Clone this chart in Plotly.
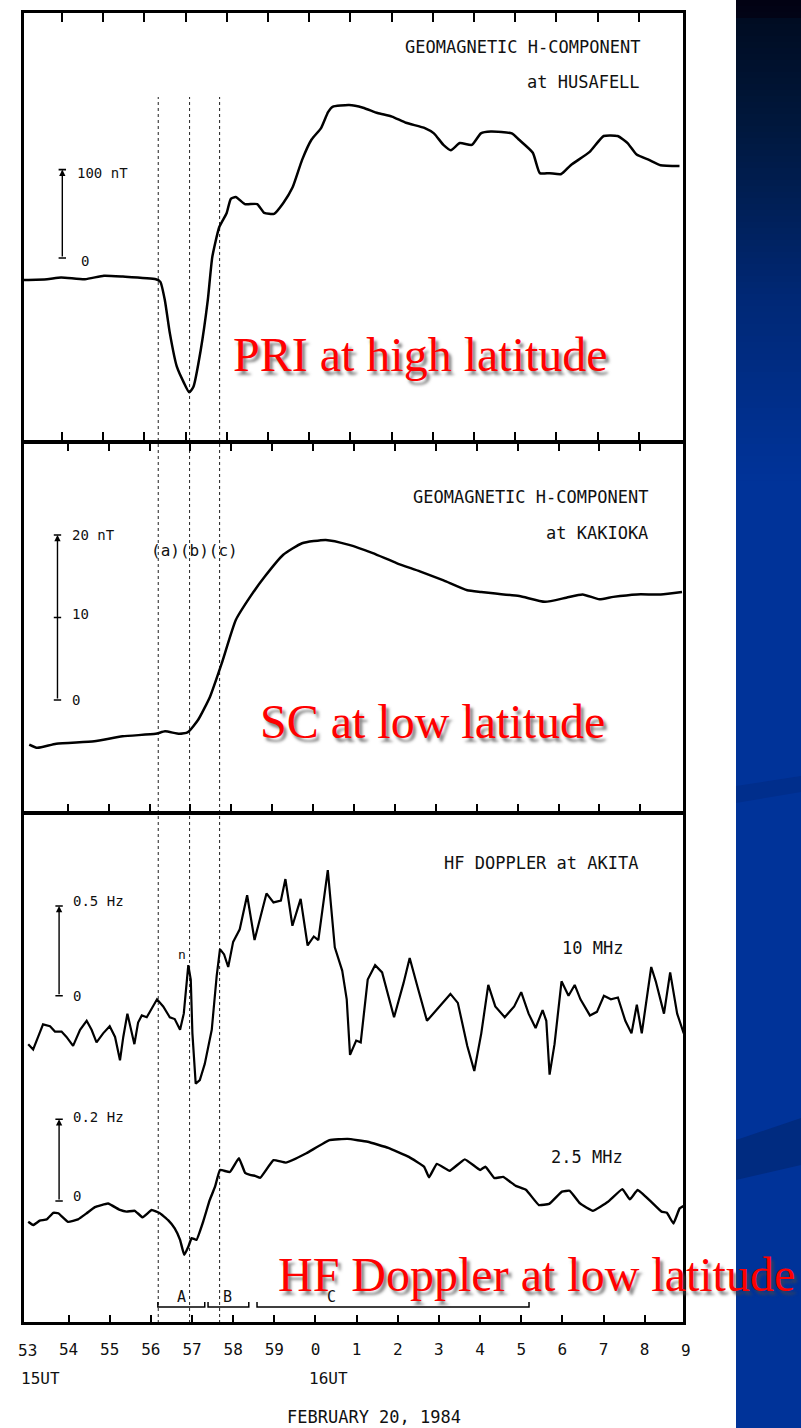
import plotly.graph_objects as go

W, H = 801, 1428


def X(px):
    return px / W


def Y(py):
    return 1 - py / H


# ---------------- data (minutes after 15:00 UT) ----------------
husafell_t = [53.07, 53.64, 53.98, 54.56, 55.02, 55.48, 56.28, 56.39, 56.50, 56.62,
              56.79, 56.96, 57.09, 57.19, 57.37, 57.54, 57.65, 57.82, 58.00, 58.10,
              58.22, 58.44, 58.74, 58.91, 59.15, 59.37, 59.60, 59.83, 60.06, 60.29,
              60.46, 60.57, 60.97, 61.31, 61.66, 62.01, 62.35, 62.81, 63.03, 63.26,
              63.44, 63.66, 63.95, 64.17, 64.41, 64.92, 65.09, 65.43, 65.60, 65.84,
              66.12, 66.35, 66.81, 67.15, 67.49, 67.73, 67.95, 68.25, 68.53, 68.99]
husafell_nT = [-25, -24, -22, -24, -20, -21, -24, -27, -48, -85,
               -123, -141, -152, -146, -104, -48, 1, 35, 51, 67,
               69, 61, 61, 51, 50, 62, 80, 111, 134, 147,
               165, 171, 173, 170, 164, 160, 153, 147, 141, 128,
               122, 130, 128, 141, 143, 141, 134, 119, 96, 96,
               95, 105, 120, 138, 138, 130, 117, 111, 105, 104]

kakioka_t = [53.06, 53.26, 53.72, 54.65, 55.34, 56.15, 56.38, 56.73, 56.94, 57.19,
             57.48, 57.77, 58.11, 58.46, 58.81, 59.27, 59.73, 60.31, 60.88, 61.46,
             62.04, 62.61, 63.19, 63.77, 64.11, 64.46, 65.04, 65.67, 66.19, 66.59,
             67.00, 67.34, 67.92, 68.50, 69.02]
kakioka_nT = [-5.4, -5.8, -5.3, -5.0, -4.4, -4.1, -3.8, -4.1, -3.9, -2.4,
              0.4, 4.5, 9.7, 12.5, 14.9, 17.6, 19.0, 19.4, 18.8, 17.8,
              16.6, 15.6, 14.5, 13.3, 13.1, 12.9, 12.6, 11.9, 12.4, 12.8,
              12.2, 12.5, 12.8, 12.8, 13.1]

akita10_t = [53.02, 53.14, 53.26, 53.38, 53.55, 53.67, 53.83, 53.95, 54.11, 54.28,
             54.44, 54.56, 54.68, 54.84, 55.00, 55.13, 55.25, 55.33, 55.43, 55.51,
             55.60, 55.69, 55.78, 55.90, 56.02, 56.15, 56.30, 56.46, 56.58, 56.71,
             56.80, 56.91, 56.97, 57.01, 57.09, 57.19, 57.31, 57.48, 57.60, 57.68,
             57.78, 57.88, 58.00, 58.16, 58.34, 58.52, 58.81, 58.98, 59.16, 59.27,
             59.44, 59.64, 59.81, 59.96, 60.07, 60.30, 60.47, 60.65, 60.76, 60.84,
             60.99, 61.10, 61.27, 61.45, 61.62, 61.91, 62.14, 62.29, 62.48, 62.71,
             62.94, 63.28, 63.46, 63.69, 63.86, 64.03, 64.20, 64.37, 64.60, 64.83,
             65.00, 65.18, 65.35, 65.52, 65.61, 65.69, 65.81, 65.98, 66.15, 66.30,
             66.44, 66.67, 66.84, 67.01, 67.18, 67.35, 67.53, 67.68, 67.81, 67.93,
             68.16, 68.27, 68.47, 68.62, 68.79, 68.95]
akita10_hz = [-0.27, -0.30, -0.23, -0.16, -0.17, -0.20, -0.20, -0.23, -0.28, -0.19,
              -0.14, -0.19, -0.26, -0.21, -0.17, -0.23, -0.36, -0.23, -0.10, -0.18,
              -0.27, -0.15, -0.11, -0.12, -0.07, -0.02, -0.06, -0.12, -0.13, -0.19,
              -0.10, 0.17, 0.09, -0.21, -0.49, -0.47, -0.38, -0.19, 0.11, 0.26,
              0.23, 0.16, 0.30, 0.37, 0.56, 0.31, 0.57, 0.52, 0.53, 0.65,
              0.39, 0.54, 0.28, 0.33, 0.31, 0.70, 0.27, 0.14, -0.02, -0.33,
              -0.25, -0.26, 0.09, 0.17, 0.13, -0.12, 0.07, 0.21, 0.05, -0.14,
              -0.08, 0.01, -0.04, -0.28, -0.42, -0.21, 0.06, -0.06, -0.12, -0.06,
              0.02, -0.10, -0.18, -0.08, -0.14, -0.44, -0.27, 0.08, 0.00, 0.06,
              -0.02, -0.11, -0.09, 0.00, -0.02, -0.01, -0.14, -0.21, -0.05, -0.21,
              0.16, 0.08, -0.10, 0.13, -0.10, -0.21]

akita25_t = [53.02, 53.14, 53.30, 53.47, 53.63, 53.75, 53.99, 54.23, 54.44, 54.64,
             54.96, 55.25, 55.41, 55.61, 55.80, 56.02, 56.22, 56.42, 56.58, 56.71,
             56.81, 56.91, 56.99, 57.11, 57.27, 57.43, 57.56, 57.68, 57.92, 58.14,
             58.29, 58.41, 58.55, 58.66, 58.98, 59.28, 59.78, 60.34, 60.78, 61.27,
             61.77, 62.27, 62.64, 62.76, 62.95, 63.26, 63.63, 64.00, 64.13, 64.35,
             64.56, 64.87, 65.12, 65.43, 65.68, 65.99, 66.18, 66.43, 66.74, 67.11,
             67.46, 67.64, 67.83, 68.16, 68.41, 68.54, 68.70, 68.85, 68.97]
akita25_hz = [-0.051, -0.059, -0.048, -0.045, -0.029, -0.030, -0.051, -0.045, -0.030, -0.015,
              -0.006, -0.022, -0.026, -0.024, -0.040, -0.022, -0.030, -0.047, -0.067, -0.095,
              -0.132, -0.112, -0.091, -0.095, -0.051, 0.002, 0.035, 0.076, 0.071, 0.105,
              0.069, 0.064, 0.061, 0.057, 0.100, 0.094, 0.117, 0.149, 0.152, 0.145,
              0.130, 0.108, 0.084, 0.058, 0.091, 0.074, 0.102, 0.076, 0.084, 0.056,
              0.059, 0.037, 0.027, -0.010, -0.007, 0.023, 0.025, -0.006, -0.024, -0.002,
              0.029, 0.004, 0.027, -0.002, -0.026, -0.029, -0.055, -0.018, -0.011]

tick_minutes = list(range(54, 69))
tick_text = [str(m % 60) for m in tick_minutes]
end_minutes = [53, 69]
event_times = [56.18, 56.94, 57.67]
phase_names = ["A", "B", "C"]
phase_start = [56.17, 57.39, 58.58]
phase_end = [57.31, 58.38, 65.19]
phase_label_t = [56.75, 57.87, 60.40]

# ---------------- geometry (pixels) ----------------
LW = 2.5
FRAME_L, FRAME_R = 22.5, 684.5          # frame line centres (px)
ROWS = [12, 442, 813, 1323]             # horizontal frame/separator line centres (px)
# time scale of each panel in the scanned figure: px of 15:53 and px per minute
top_map = (20.7, 41.2)
mid_map = (26.8, 40.9)
bot_map = (27.4, 41.15)
DOM_L, DOM_R = FRAME_L + LW / 2, FRAME_R - LW / 2


def xrange_of(m):
    return [53 + (DOM_L - m[0]) / m[1], 53 + (DOM_R - m[0]) / m[1]]


def ybox(i):
    return (ROWS[i] + LW / 2, ROWS[i + 1] - LW / 2)


def yrange(box, zero_px, ppu):
    return [(zero_px - box[1]) / ppu, (zero_px - box[0]) / ppu]


top_box, mid_box, bot_box = ybox(0), ybox(1), ybox(2)
top_yr = yrange(top_box, 258.0, 0.884)
mid_yr = yrange(mid_box, 700.0, 8.25)
b10_yr = yrange(bot_box, 995.7, 179.4)
b25_yr = yrange(bot_box, 1201.0, 408.5)

MONO = "DejaVu Sans Mono, Liberation Mono, monospace"
SERIF = "Liberation Serif, Times New Roman, serif"

fig = go.Figure()
fig.add_trace(go.Scatter(x=husafell_t, y=husafell_nT, xaxis="x", yaxis="y", mode="lines",
                         line=dict(color="black", width=2.5, shape="spline", smoothing=0.5),
                         hoverinfo="skip"))
fig.add_trace(go.Scatter(x=kakioka_t, y=kakioka_nT, xaxis="x2", yaxis="y2", mode="lines",
                         line=dict(color="black", width=2.5, shape="spline", smoothing=0.5),
                         hoverinfo="skip"))
fig.add_trace(go.Scatter(x=akita10_t, y=akita10_hz, xaxis="x3", yaxis="y3", mode="lines",
                         line=dict(color="black", width=2.2), hoverinfo="skip"))
fig.add_trace(go.Scatter(x=akita25_t, y=akita25_hz, xaxis="x3", yaxis="y4", mode="lines",
                         line=dict(color="black", width=2.4, shape="spline", smoothing=0.3),
                         hoverinfo="skip"))


def xax(m, anchor, ticklen, mirror, labels=False):
    d = dict(domain=[X(DOM_L), X(DOM_R)], range=xrange_of(m), anchor=anchor,
             tickmode="array", tickvals=tick_minutes, ticks="inside", ticklen=ticklen,
             tickwidth=2, tickcolor="black", mirror=mirror, showline=True,
             linewidth=LW, linecolor="black", showgrid=False, zeroline=False,
             showticklabels=labels, fixedrange=True)
    if labels:
        d.update(ticktext=tick_text, tickfont=dict(family=MONO, size=16, color="#111"),
                 ticklabelstandoff=11)
    return d


def yax(box, rng, anchor):
    return dict(domain=[Y(box[1]), Y(box[0])], range=rng, anchor=anchor, showline=True,
                mirror=True, linewidth=LW, linecolor="black", ticks="",
                showticklabels=False, showgrid=False, zeroline=False, fixedrange=True)


shapes = []
annotations = []

# blue side strip with gradient
stops = [(0, (2, 2, 18)), (20, (2, 4, 24)), (21, (0, 12, 34)), (130, (0, 24, 62)),
         (300, (0, 40, 118)), (480, (0, 51, 153))]
shapes.append(dict(type="rect", xref="paper", yref="paper", x0=X(736), x1=1.0,
                   y0=0, y1=1, fillcolor="rgb(0,51,153)", line=dict(width=0), layer="below"))
step = 6
for y0 in range(0, 480, step):
    ym = y0 + step / 2
    c = stops[-1][1]
    for (a, ca), (b, cb) in zip(stops[:-1], stops[1:]):
        if a <= ym <= b:
            f = (ym - a) / (b - a) if b > a else 0
            c = tuple(int(round(ca[i] + f * (cb[i] - ca[i]))) for i in range(3))
            break
    shapes.append(dict(type="rect", xref="paper", yref="paper", x0=X(736), x1=1.0,
                       y0=Y(y0 + step + 0.5), y1=Y(y0), fillcolor="rgb(%d,%d,%d)" % c,
                       line=dict(width=0), layer="below"))
shapes.append(dict(type="path", xref="paper", yref="paper", layer="below",
                   path="M %f %f L %f %f L %f %f L %f %f Z" % (X(736), Y(786), 1.0, Y(776),
                                                              1.0, Y(792), X(736), Y(803)),
                   fillcolor="rgb(0,46,140)", line=dict(width=0)))
shapes.append(dict(type="path", xref="paper", yref="paper", layer="below",
                   path="M %f %f L %f %f L %f %f L %f %f Z" % (X(736), Y(1140), 1.0, Y(1118),
                                                              1.0, Y(1165), X(736), Y(1180)),
                   fillcolor="rgb(0,43,128)", line=dict(width=0)))

# dotted event lines (a), (b), (c)
for t in event_times:
    shapes.append(dict(type="line", xref="x3", yref="paper", x0=t, x1=t, y0=Y(ROWS[3]), y1=Y(97),
                       line=dict(color="#333", width=1.1, dash="dot"), layer="below"))

# phase brackets A, B, C
yb = (995.7 - 1307) / 179.4
yt = yb + 5 / 179.4
for n, a, b, lt in zip(phase_names, phase_start, phase_end, phase_label_t):
    shapes.append(dict(type="path", xref="x3", yref="y3",
                       path="M %f %f L %f %f L %f %f L %f %f" % (a, yt, a, yb, b, yb, b, yt),
                       line=dict(color="black", width=1.5)))
    annotations.append(dict(x=lt, y=Y(1297), xref="x3", yref="paper", text=n, showarrow=False,
                            xanchor="center", yanchor="middle",
                            font=dict(family=MONO, size=15, color="#111")))


# scale bars
def scale_bar(xref, yref, t, v0, v1, mid=None, cap=0.09):
    annotations.append(dict(x=t, y=v1, ax=t, ay=v0, xref=xref, yref=yref, axref=xref, ayref=yref,
                            showarrow=True, arrowhead=2, arrowsize=0.9, arrowwidth=1.4,
                            arrowcolor="black", text=""))
    vals = [v0, v1] + ([mid] if mid is not None else [])
    for v in vals:
        shapes.append(dict(type="line", xref=xref, yref=yref, x0=t - cap, x1=t + cap, y0=v, y1=v,
                           line=dict(color="black", width=1.6)))


scale_bar("x", "y", 54.01, 0, 100)
scale_bar("x2", "y2", 53.75, 0, 20, mid=10)
scale_bar("x3", "y3", 53.77, 0, 0.5)
scale_bar("x3", "y4", 53.77, 0, 0.2)


def txt(text, px, py, size=17, anchor="left", family=MONO, color="#111", **kw):
    d = dict(x=X(px), y=Y(py), xref="paper", yref="paper", text=text, showarrow=False,
             xanchor=anchor, yanchor="middle", font=dict(family=family, size=size, color=color))
    d["font"].update(kw)
    annotations.append(d)


# panel titles
txt("GEOMAGNETIC H-COMPONENT", 642, 47, anchor="right")
txt("at HUSAFELL", 642, 82, anchor="right")
txt("GEOMAGNETIC H-COMPONENT", 650, 497, anchor="right")
txt("at KAKIOKA", 650, 533, anchor="right")
txt("HF DOPPLER at AKITA", 640, 863, anchor="right")
txt("10 MHz", 625, 948, anchor="right")
txt("2.5 MHz", 625, 1157, anchor="right")

# scale labels
txt("100 nT", 75, 173, size=14)
txt("0", 79, 261, size=14)
txt("20 nT", 70, 535, size=14)
txt("10", 70, 614, size=14)
txt("0", 70, 700, size=14)
txt("0.5 Hz", 71, 901, size=14)
txt("0", 71, 996, size=14)
txt("0.2 Hz", 71, 1117, size=14)
txt("0", 71, 1196, size=14)
txt("(a)(b)(c)", 194, 550, size=16, anchor="center")
txt("n", 182, 955, size=13, anchor="center")

# bottom axis end labels (15:53 and 16:09 sit on / next to the frame)
for m in end_minutes:
    txt(str(m % 60), bot_map[0] + (m - 53) * bot_map[1], 1350, size=16, anchor="center")
txt("15UT", 19, 1378, size=16)
txt("16UT", 328, 1378, size=16, anchor="center")
txt("FEBRUARY 20, 1984", 374, 1417, size=17, anchor="center")

# red overlay captions
shadow = "3px 4px 3px rgba(70,70,70,0.65)"
txt("PRI at high latitude", 231, 354, size=48, family=SERIF, color="#ff0000", shadow=shadow)
txt("SC at low latitude", 258, 721, size=48, family=SERIF, color="#ff0000", shadow=shadow)
txt("HF Doppler at low latitude", 276, 1274, size=48, family=SERIF, color="#ff0000", shadow=shadow)

fig.update_layout(
    width=W, height=H, margin=dict(l=0, r=0, t=0, b=0),
    paper_bgcolor="white", plot_bgcolor="white", showlegend=False,
    xaxis=xax(top_map, "y", 9, "ticks"),
    yaxis=yax(top_box, top_yr, "x"),
    xaxis2=xax(mid_map, "y2", 8, "ticks"),
    yaxis2=yax(mid_box, mid_yr, "x2"),
    xaxis3=xax(bot_map, "y3", 7, True, labels=True),
    yaxis3=yax(bot_box, b10_yr, "x3"),
    yaxis4=dict(overlaying="y3", anchor="x3", range=b25_yr, visible=False, fixedrange=True),
    shapes=shapes, annotations=annotations,
)

fig.write_html("out.html")
